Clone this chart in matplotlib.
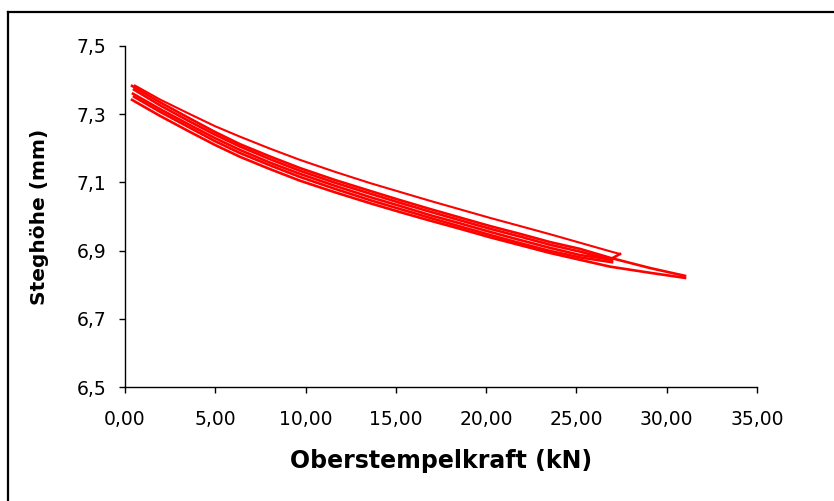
import matplotlib
matplotlib.use("Agg")
import matplotlib.pyplot as plt
from matplotlib.lines import Line2D
from matplotlib.ticker import FuncFormatter

# Zyklus 1 (bis ca. 31 kN)
kraft_1_auf = [0.39, 1.94, 3.60, 4.98, 6.37, 8.03, 9.69, 11.63, 13.57, 15.23, 16.89, 18.55,
               20.21, 21.88, 23.54, 25.20, 26.86, 29.07, 31.01]
hoehe_1_auf = [7.342, 7.295, 7.248, 7.210, 7.175, 7.139, 7.105, 7.071, 7.039, 7.013, 6.988, 6.964,
               6.939, 6.916, 6.893, 6.873, 6.853, 6.835, 6.820]
kraft_1_ab = [31.01, 29.07, 26.86, 25.20, 23.54, 21.88, 20.21, 18.55, 16.89, 15.23, 13.57, 11.63,
              9.69, 8.03, 6.37, 4.98, 3.60, 1.94, 0.39]
hoehe_1_ab = [6.826, 6.849, 6.879, 6.905, 6.925, 6.949, 6.972, 6.997, 7.022, 7.048, 7.075, 7.107,
              7.142, 7.176, 7.212, 7.248, 7.287, 7.335, 7.383]

# Zyklus 2 (bis ca. 27 kN)
kraft_2_auf = [0.50, 1.94, 3.60, 4.98, 6.37, 8.03, 9.69, 11.63, 13.57, 15.23, 16.89, 18.55,
               20.21, 21.88, 23.54, 25.20, 26.97]
hoehe_2_auf = [7.351, 7.307, 7.260, 7.221, 7.186, 7.150, 7.116, 7.081, 7.048, 7.022, 6.996, 6.971,
               6.946, 6.922, 6.899, 6.880, 6.866]
kraft_2_ab = [26.97, 25.20, 23.54, 21.88, 20.21, 18.55, 16.89, 15.23, 13.57, 11.63, 9.69, 8.03,
              6.37, 4.98, 3.60, 1.94, 0.50]
hoehe_2_ab = [6.872, 6.897, 6.917, 6.941, 6.964, 6.989, 7.014, 7.040, 7.067, 7.099, 7.134, 7.168,
              7.205, 7.240, 7.278, 7.326, 7.372]

# Zyklus 3 (bis ca. 27,4 kN)
kraft_3_auf = [0.44, 1.94, 3.60, 4.98, 6.37, 8.03, 9.69, 11.63, 13.57, 15.23, 16.89, 18.55,
               20.21, 21.88, 23.54, 25.20, 26.86, 27.41]
hoehe_3_auf = [7.360, 7.315, 7.268, 7.230, 7.195, 7.158, 7.125, 7.090, 7.057, 7.031, 7.004, 6.980,
               6.955, 6.931, 6.908, 6.887, 6.874, 6.890]
kraft_3_ab = [27.41, 26.86, 25.20, 23.54, 21.88, 20.21, 18.55, 16.89, 15.23, 13.57, 11.63, 9.69,
              8.03, 6.37, 4.98, 3.60, 1.94, 0.55]
hoehe_3_ab = [6.890, 6.898, 6.923, 6.948, 6.972, 6.996, 7.021, 7.046, 7.072, 7.098, 7.131, 7.166,
              7.199, 7.234, 7.265, 7.300, 7.343, 7.384]

x_ticks = [0, 5, 10, 15, 20, 25, 30, 35]
y_ticks = [6.5, 6.7, 6.9, 7.1, 7.3, 7.5]

plt.rcParams['font.family'] = ['DejaVu Sans']

fig = plt.figure(figsize=(8.34, 5.01), dpi=100)
ax = fig.add_axes([0.1499, 0.2275, 0.7578, 0.6807])

# Band der Lastzyklen etwas kräftiger, Entlastungslinie oben dünner
serien = [
    (kraft_1_auf, hoehe_1_auf, 1.9), (kraft_1_ab, hoehe_1_ab, 1.9),
    (kraft_2_auf, hoehe_2_auf, 1.9), (kraft_2_ab, hoehe_2_ab, 1.9),
    (kraft_3_auf, hoehe_3_auf, 1.9), (kraft_3_ab, hoehe_3_ab, 1.5),
]
for kx, hy, lw in serien:
    ax.plot(kx, hy, color="#ff0000", lw=lw, solid_joinstyle="round")

ax.set_xlim(0, 35)
ax.set_ylim(6.5, 7.5)
ax.set_xticks(x_ticks)
ax.set_yticks(y_ticks)
ax.xaxis.set_major_formatter(FuncFormatter(lambda v, p: f"{v:.2f}".replace(".", ",")))
ax.yaxis.set_major_formatter(FuncFormatter(lambda v, p: f"{v:.1f}".replace(".", ",")))
ax.tick_params(direction="out", length=4.3, width=1, labelsize=13.5)
ax.tick_params(axis="x", pad=12)
ax.tick_params(axis="y", pad=9)

for s in ["top", "right"]:
    ax.spines[s].set_visible(False)
for s in ["left", "bottom"]:
    ax.spines[s].set_linewidth(1)

ax.set_xlabel("Oberstempelkraft (kN)", fontsize=17, fontweight="bold", labelpad=15)
ax.set_ylabel("Steghöhe (mm)", fontsize=14.5, fontweight="bold", labelpad=20)

# Rahmen oben und links
fig.add_artist(Line2D([8 / 834, 8 / 834], [0, 1 - 12 / 501], transform=fig.transFigure,
                      color="black", lw=1.6))
fig.add_artist(Line2D([8 / 834, 1], [1 - 12 / 501, 1 - 12 / 501], transform=fig.transFigure,
                      color="black", lw=1.6))

fig.savefig("out.png", dpi=100)
